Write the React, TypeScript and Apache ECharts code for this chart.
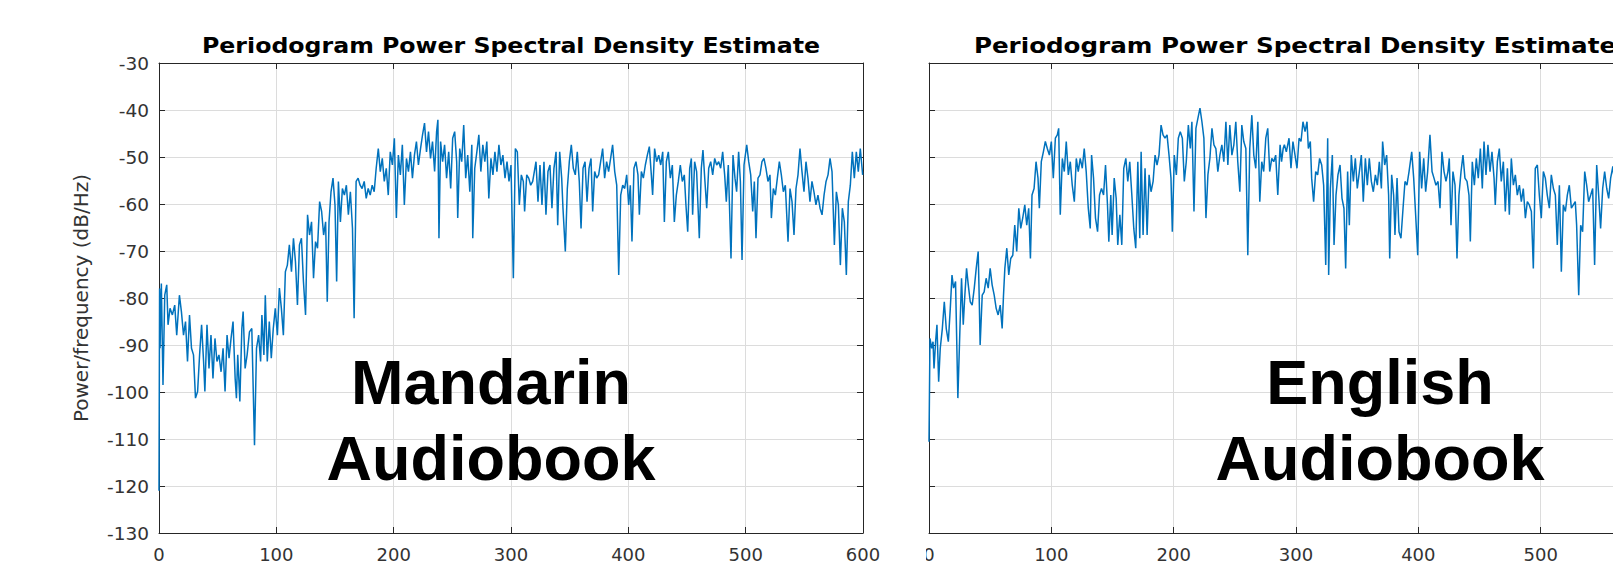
import React, { useEffect, useRef } from "react";
import * as echarts from "echarts";

const TITLE = "Periodogram Power Spectral Density Estimate";
const Y_NAME = "Power/frequency (dB/Hz)";
const LABELS_LEFT = ["Mandarin", "Audiobook"];
const LABELS_RIGHT = ["English", "Audiobook"];
const X_MIN = 0, X_MAX = 600, X_STEP = 100;
const Y_MIN = -130, Y_MAX = -30, Y_STEP = 10;

// [frequency (Hz), PSD (dB/Hz)]
const mandarinPoints: number[][] = [
[0,-121],[0.5,-78],[0.9,-90.7],[2,-76.9],[3.4,-98.5],[4.9,-79.4],[6.6,-77.2],[7.7,-85.7],[9.4,-82.2],[11.4,-83.6],[13.4,-81.5],[15.1,-87.9],[17.4,-79.4],[19.1,-82.9],[20.9,-87.9],[22.6,-85],[24.3,-93.5],[26,-83.6],[27.7,-90.7],[29.4,-92.1],[31.1,-101.3],[32.9,-99.9],[34.6,-92.1],[36.3,-85.7],[38,-93.5],[39.1,-99.9],[40.9,-85.7],[42.6,-95],[44.3,-87.9],[46,-97.1],[47.7,-88.6],[49.4,-93.5],[51.1,-92.1],[52.9,-95.7],[54.6,-90.7],[56.3,-99.9],[58,-87.9],[59.7,-92.8],[61.4,-88.6],[63.1,-85],[64.9,-97.1],[66,-101.3],[67.1,-92.1],[68.9,-102],[70.6,-86.5],[71.7,-82.9],[73.4,-95],[75.1,-92.1],[77.1,-87.2],[79.1,-86.5],[81.4,-111.3],[83.1,-90.7],[84.9,-87.9],[86.6,-93.5],[87.7,-83.6],[89.4,-92.1],[90.6,-79.4],[92.3,-93.5],[94,-85],[95.7,-92.8],[97.4,-86.5],[99.1,-82.2],[100.9,-87.9],[102.6,-77.9],[104.3,-82.2],[106,-87.9],[107.7,-74.4],[109.4,-73],[111.1,-68.7],[112.9,-74.4],[114.6,-67.3],[116.3,-72.3],[118,-81.5],[119.7,-68.7],[121.4,-67.3],[123.1,-76.5],[124.9,-83.6],[126.6,-62.3],[128.3,-66.6],[130,-63.8],[131.7,-75.8],[133.4,-68],[135.1,-69.4],[136.9,-59.5],[138.6,-61.6],[140.3,-66.6],[142,-63.8],[143.4,-80.8],[144.9,-63.8],[146.6,-57.4],[148.3,-54.5],[150,-60.2],[151.4,-76.5],[152.9,-55.2],[154.6,-63.8],[156.3,-56.7],[158,-58.1],[159.7,-56],[161.4,-62.3],[163.1,-57.4],[164.9,-65.2],[166.3,-84.3],[168,-55.2],[169.7,-54.5],[171.4,-56],[173.1,-56.7],[174.9,-55.2],[176.6,-58.8],[178.3,-56.7],[180,-58.1],[181.7,-56],[183.4,-57.4],[185.1,-52.4],[186.9,-48.2],[188.6,-53.1],[190.3,-50.3],[192,-55.2],[193.7,-52.4],[195.4,-58.1],[197.1,-48.9],[198.9,-51.7],[200.6,-46],[202.3,-63],[204,-49.6],[205.7,-53.8],[207.4,-47.4],[209.1,-60.2],[210.9,-50.3],[212.6,-53.1],[214.3,-48.9],[216,-54.5],[217.7,-49.6],[219.4,-46.7],[221.1,-51.7],[222.9,-48.2],[224.6,-45.3],[226.3,-42.8],[228,-48.9],[229.7,-44.6],[231.4,-50.3],[233.1,-46.7],[234.9,-53.1],[236.6,-44.6],[237.7,-42.1],[238.6,-67.3],[240,-46.7],[241.7,-51],[243.4,-47.4],[245.1,-54.5],[246.9,-48.9],[248.6,-56.7],[250.3,-46],[252,-44.6],[253.7,-51],[254.6,-63],[256.3,-48.2],[258,-51],[259.7,-43.2],[261.4,-54.5],[263.1,-49.6],[264.9,-57.4],[266.6,-47.4],[267.4,-67.3],[269.1,-52.4],[270.9,-48.9],[272.6,-45.3],[274.3,-53.1],[276,-47.4],[277.7,-51],[279.4,-46.7],[281.1,-58.8],[282.9,-50.3],[284.6,-53.8],[286.3,-48.9],[288,-53.1],[289.7,-47.4],[291.4,-51.7],[293.1,-49.6],[294.9,-54.5],[296.6,-51],[298.3,-55.2],[300,-51.7],
[302,-75.8],[303.7,-48.2],[305.4,-48.9],[307.1,-60.2],[308.8,-53.8],[310.5,-55.2],[311.6,-61.6],[313.4,-53.8],[315.1,-54.5],[316.8,-56],[318.5,-55.2],[321.3,-51],[323,-59.5],[324.7,-51.7],[326.4,-60.2],[328.1,-51],[329.8,-62.3],[331.5,-53.1],[333.2,-51.7],[334.9,-60.9],[336.6,-52.4],[338.4,-48.9],[339.8,-64.5],[341.5,-48.9],[343.2,-54.5],[344.3,-60.9],[346.3,-70.1],[348,-56.7],[349.7,-51],[351.4,-47.4],[353.1,-52.4],[354.8,-53.8],[356.5,-48.9],[358.2,-55.2],[359.7,-65.2],[361.4,-52.4],[363.1,-51],[364.8,-59.5],[366.5,-52.4],[368.2,-50.3],[369.6,-61.6],[371.3,-53.1],[373,-54.5],[374.7,-53.8],[376.4,-51],[378.1,-48.2],[379.8,-54.5],[381.5,-51],[383.2,-53.1],[384.9,-50.3],[386.6,-47.4],[388.4,-53.1],[390.1,-56],[391.8,-75.1],[393.5,-58.1],[395.2,-56],[396.9,-56.7],[398.6,-53.8],[400.3,-60.2],[401.7,-56],[403.1,-68],[404.8,-52.4],[406.5,-51],[408.2,-53.8],[409.4,-62.3],[411.1,-53.1],[412.8,-54.5],[414.5,-51.7],[416.2,-49.6],[417.9,-47.8],[419.6,-53.8],[420.7,-58.1],[422.4,-48.2],[424.1,-51],[425.9,-49.6],[427.6,-51.7],[429.3,-48.9],[430.7,-63.8],[432.4,-51],[434.1,-48.9],[435.8,-54.5],[437.5,-51.7],[439.2,-63.8],[440.9,-58.1],[442.6,-55.2],[444.3,-51.7],[446,-55.2],[447.7,-53.8],[449.1,-60.2],[450.6,-65.9],[452.3,-52.4],[453.7,-50.3],[454.8,-62.3],[456.5,-51],[458.2,-53.1],[460.5,-67.3],[462.2,-52.4],[463.6,-48.5],[465.3,-55.2],[466.8,-60.9],[468.5,-52.4],[470.2,-51],[471.9,-53.8],[473.6,-50.3],[475.3,-51.7],[477,-51],[478.7,-52.4],[480.4,-48.9],[482.1,-53.8],[483.5,-59.5],[485.2,-51.7],[487.5,-71.6],[489.2,-49.6],[490.9,-54.5],[492.3,-57.4],[494,-48.9],[495.5,-55.2],[496.9,-71.9],[498.6,-51.7],[500.9,-47.4],[502.6,-51],[504.3,-53.8],[506,-61.6],[507.4,-55.2],[508.8,-67.3],[510.5,-54.5],[512.2,-53.8],[513.9,-51],[515.6,-50.3],[517.3,-52.4],[519,-55.2],[520.7,-53.8],[521.9,-63],[523.6,-56.7],[525.3,-58.1],[527,-54.5],[528.7,-51],[530.4,-53.8],[532.1,-57.4],[533.8,-56],[536.1,-68],[537.8,-56.7],[539.5,-59.5],[541.2,-66.6],[542.9,-56.7],[544.6,-53.8],[546.3,-48.2],[548,-53.1],[549.7,-57.4],[551.4,-51],[553.1,-54.5],[554.8,-59.5],[556.5,-55.2],[558.2,-57.4],[559.9,-60.2],[561.6,-58.1],[563.4,-60.9],[565.1,-62.3],[566.8,-58.1],[568.5,-55.2],[570.2,-53.8],[571.9,-50.3],[573.6,-53.1],[575.6,-68.7],[577.3,-57.4],[579,-60.2],[580.7,-73],[582.4,-60.9],[584.1,-63.8],[585.8,-75.1],[587.5,-59.5],[589.2,-56],[590.9,-48.9],[592.6,-54.5],[594.3,-48.9],[596,-53.1],[597.7,-48.2],[599.7,-53.8]
];

const englishPoints: number[][] = [
[0,-110.6],[0.8,-88.6],[2.2,-90.7],[3.3,-89.3],[4.1,-95],[5.4,-89.3],[6.5,-85.7],[7.9,-97.8],[9.2,-90.7],[10.9,-86.5],[12.5,-80.8],[14.1,-86.5],[15.8,-89.3],[17.4,-82.2],[18.8,-75.1],[20.1,-77.9],[21.7,-76.5],[23.6,-101.3],[25.3,-86.5],[26.6,-75.8],[28,-85.7],[29.3,-79.4],[30.7,-73.7],[32.1,-77.2],[33.7,-80.8],[35.3,-81.5],[37,-77.9],[38.6,-73.7],[40.2,-70.1],[41,-79.4],[41.8,-90],[43.5,-79.4],[45.1,-78.7],[46.7,-75.8],[48.4,-77.9],[50,-73.7],[51.6,-77.2],[53.3,-79.4],[54.9,-82.2],[56.5,-83.6],[58.2,-81.5],[59.8,-86.5],[60.9,-79.4],[62,-73.7],[63.6,-69.4],[65.2,-75.1],[66.8,-71.6],[68.5,-70.9],[70.1,-64.5],[71.7,-70.1],[73.4,-60.9],[75,-65.2],[76.6,-63],[78.3,-60.2],[79.9,-64.5],[81.5,-60.9],[82.9,-71.6],[84.2,-58.1],[85.9,-56.7],[87.5,-51],[89.1,-54.5],[90.2,-60.9],[91.8,-51],[93.5,-48.9],[95.1,-46.7],[96.7,-48.2],[98.4,-49.6],[100,-46.7],[101.6,-54.5],[103.3,-46],[104.9,-45.3],[106,-43.9],[107.3,-62.3],[109,-50.3],[110.6,-53.1],[112.2,-46.7],[113.9,-53.8],[115.5,-51],[117.1,-56],[118.8,-59.5],[120.4,-50.3],[122,-53.1],[123.6,-50.3],[125.3,-52.4],[126.9,-48.2],[128.5,-53.1],[130.2,-60.9],[131.8,-65.2],[132.9,-49.6],[134.5,-54.5],[136.1,-63],[137.8,-65.9],[139.4,-58.1],[141,-56.7],[142.7,-58.1],[144.3,-51.7],[145.9,-60.2],[147,-68],[148.6,-58.1],[149.7,-66.6],[151.4,-54.5],[153,-58.8],[154.3,-68.7],[156,-62.3],[157.6,-68.7],[159.2,-52.4],[160.9,-50.3],[162.5,-55.2],[164.1,-51],[165.8,-58.1],[167.4,-65.2],[169,-69.4],[170.7,-51],[172.3,-67.3],[173.4,-48.9],[175,-66.6],[176.6,-52.4],[178.3,-66.6],[179.9,-53.8],[181.5,-57.4],[183.2,-55.2],[184.8,-49.6],[186.4,-51.7],[188,-49.6],[189.7,-43.2],[191.3,-45.3],[192.9,-46],[194.6,-45.3],[196.2,-49.6],[197.8,-54.5],[198.9,-65.9],[200.5,-49.6],[202.2,-53.8],[203.8,-46],[205.4,-44.6],[207.1,-46],[208.7,-55.2],[210.3,-51],[212,-43.2],[213.6,-48.2],[214.9,-42.5],[216.6,-61.6],[218.2,-43.9],[219.8,-41.8],[221.5,-39.6],[223.1,-42.5],[224.7,-46],[226.4,-63],[228,-53.8],[229.6,-50.3],[231.3,-43.9],[232.9,-47.4],[234.5,-48.2],[236.1,-53.1],[237.8,-49.6],[239.4,-47.4],[241,-51],[242.7,-42.5],[244.3,-51.7],[245.9,-43.2],[247.6,-49.6],[249.2,-47.4],[250.8,-42.5],[252.4,-51],[254.1,-57.4],[255.7,-43.2],[257.3,-46.7],[259,-48.2],[260.6,-70.9],[262.2,-48.2],[263.9,-41.1],[265.5,-49.6],[267.1,-52.4],[268.8,-42.5],[270.4,-59.5],[272,-51],[273.6,-53.1],[275.3,-46],[276.9,-43.9],[278.5,-53.1],[280.2,-50.3],[281.8,-51],[283.4,-49.6],[285.1,-58.1],
[287,-47.4],[288.2,-51],[289.5,-48.2],[290.5,-47.4],[292.1,-48.9],[294.3,-46],[295.9,-52.4],[297.5,-46.7],[299.2,-49.6],[300.8,-52.4],[302.5,-46],[304.1,-46.7],[305.7,-42.5],[307.4,-44.6],[309,-42.5],[310.1,-48.2],[311.7,-46.7],[312.8,-54.5],[314.4,-59.5],[316.1,-53.1],[317.7,-53.8],[319.3,-50.3],[321,-51.7],[322.6,-56],[324.3,-73],[325.9,-46],[326.7,-75.1],[328.1,-56.7],[329.7,-49.6],[331.1,-68.7],[332.7,-58.1],[334.3,-53.8],[336,-51.7],[337.6,-58.8],[339.2,-60.9],[340.6,-73.7],[342.2,-53.1],[343.6,-64.5],[345.2,-49.6],[346.9,-55.2],[348.5,-50.3],[350.1,-56.7],[351.8,-53.1],[353.4,-49.6],[355,-59.5],[356.7,-50.3],[358.3,-56],[359.9,-50.3],[361.6,-55.2],[363.2,-57.4],[364.9,-53.8],[366.5,-56],[368.1,-51],[369.8,-56.7],[370.8,-46.7],[372.5,-51.7],[374.1,-49.6],[375.7,-58.1],[376.6,-71.6],[378.2,-53.8],[379.8,-58.1],[380.9,-66.6],[382.6,-54.5],[384.2,-65.9],[385.8,-67.3],[387.5,-60.9],[389.1,-55.2],[390.7,-56],[392.4,-53.1],[394.6,-48.9],[396.2,-54.5],[397.8,-62.3],[399.5,-70.9],[401.1,-48.9],[402.7,-56.7],[404.4,-50.3],[406,-57.4],[407.6,-53.1],[409.5,-45.3],[411.2,-53.1],[412.8,-54.5],[414.4,-56],[416.1,-55.2],[417.7,-60.9],[419.3,-48.9],[421,-53.1],[422.6,-55.2],[424.2,-53.1],[425.3,-50.3],[426.7,-64.5],[428.3,-53.1],[430,-56],[431.6,-71.6],[433.2,-58.1],[434.9,-53.1],[436.5,-49.6],[438.1,-54.5],[439.8,-55.2],[441.4,-58.1],[442.5,-68],[444.1,-51],[445.8,-56],[447.4,-50.3],[449,-54.5],[450.7,-48.2],[452.3,-56.7],[453.7,-46.7],[455.3,-53.8],[456.9,-47.4],[458.6,-53.1],[460.2,-48.9],[461.9,-54.5],[462.9,-60.2],[464.6,-51],[466.2,-48.2],[467.8,-55.2],[469.5,-51],[471.1,-61.6],[472.8,-52.4],[474.4,-62.3],[476,-50.3],[477.7,-56],[479.3,-53.8],[480.9,-58.1],[482.6,-56],[484.2,-59.5],[485.8,-56.7],[487.5,-63],[489.1,-59.5],[490.7,-60.2],[492.4,-61.6],[494,-73.7],[495.6,-52.4],[497.3,-51.7],[498.9,-58.1],[500.5,-63],[502.2,-53.1],[503.8,-54.5],[505.4,-58.1],[507.1,-60.9],[508.7,-53.8],[510.4,-56.7],[512,-58.1],[513.6,-68.7],[515.3,-56],[516.9,-74.4],[518.5,-60.2],[520.2,-61.6],[521.8,-58.1],[523.4,-56],[525.1,-60.9],[526.7,-60.2],[528.3,-59.5],[529.4,-64.5],[531.1,-79.4],[532.7,-64.5],[534.3,-65.9],[536,-53.1],[537.6,-56],[539.2,-59.5],[540.9,-58.1],[542.5,-56.7],[544.1,-73],[545.8,-51.7],[547.4,-58.1],[549,-65.2],[550.7,-56.7],[552.3,-53.1],[554,-56.7],[555.6,-58.8],[557.2,-54.5],[559,-52],[561,-57]
];

const LINE_COLOR = "#0072BD";
const AXIS_COLOR = "#262626";
const GRID_COLOR = "#dcdcdc";
const LABEL_COLOR = "#333333";
const FONT = "'DejaVu Sans', sans-serif";

function xAxes(gridIndex: number, showMax: boolean) {
  const base = {
    type: "value" as const, gridIndex, min: X_MIN, max: X_MAX, interval: X_STEP,
    axisLine: { show: true, onZero: false, lineStyle: { color: AXIS_COLOR, width: 1 } },
    axisTick: { show: true, inside: true, length: 6, lineStyle: { color: AXIS_COLOR } },
  };
  return [
    { ...base, position: "bottom",
      axisLabel: { show: true, color: LABEL_COLOR, fontSize: 18, fontFamily: FONT, margin: 12, showMaxLabel: showMax, showMinLabel: true },
      splitLine: { show: true, lineStyle: { color: GRID_COLOR, width: 1 } } },
    { ...base, position: "top", axisLabel: { show: false }, splitLine: { show: false } },
  ];
}

function yAxes(gridIndex: number, showLabels: boolean) {
  const base = {
    type: "value" as const, gridIndex, min: Y_MIN, max: Y_MAX, interval: Y_STEP,
    axisLine: { show: true, onZero: false, lineStyle: { color: AXIS_COLOR, width: 1 } },
    axisTick: { show: true, inside: true, length: 6, lineStyle: { color: AXIS_COLOR } },
  };
  return [
    { ...base, position: "left",
      name: showLabels ? Y_NAME : "", nameLocation: "middle", nameGap: 68,
      nameTextStyle: { color: LABEL_COLOR, fontSize: 20, fontFamily: FONT },
      axisLabel: { show: showLabels, color: LABEL_COLOR, fontSize: 18.5, fontFamily: FONT, margin: 10 },
      splitLine: { show: true, lineStyle: { color: GRID_COLOR, width: 1 } } },
    { ...base, position: "right", axisLabel: { show: false }, splitLine: { show: false } },
  ];
}

function bigText(lines: string[], cx: number) {
  return lines.map((t, i) => ({
    type: "text", x: cx, y: 382 + i * 76, z: 100,
    style: { text: t, fill: "#000", font: "bold 63px 'Liberation Sans', Arial, sans-serif",
      textAlign: "center", textVerticalAlign: "middle" },
  }));
}

function titleText(cx: number, sx: number) {
  return {
    type: "text", x: cx, y: 46, z: 100, scaleX: sx,
    style: { text: TITLE, fill: "#000", font: "bold 20.5px 'DejaVu Sans', sans-serif",
      textAlign: "center", textVerticalAlign: "middle" },
  };
}

export default function App() {
  const ref = useRef<HTMLDivElement>(null);
  useEffect(() => {
    if (!ref.current) return;
    const chart = echarts.init(ref.current, null, { renderer: "svg" });
    chart.setOption({
      animation: false,
      backgroundColor: "#ffffff",
      grid: [
        { left: 159, top: 63, width: 704, height: 470, containLabel: false, outerBoundsMode: "none" },
        { left: 929, top: 63, width: 734, height: 470, containLabel: false, outerBoundsMode: "none" },
      ],
      xAxis: [...xAxes(0, true), ...xAxes(1, false)],
      yAxis: [...yAxes(0, true), ...yAxes(1, false)],
      series: [
        { type: "line", name: "Mandarin", xAxisIndex: 0, yAxisIndex: 0, data: mandarinPoints,
          showSymbol: false, symbol: "none", lineStyle: { color: LINE_COLOR, width: 1.5 }, clip: true },
        { type: "line", name: "English", xAxisIndex: 2, yAxisIndex: 2, data: englishPoints,
          showSymbol: false, symbol: "none", lineStyle: { color: LINE_COLOR, width: 1.5 }, clip: true },
      ],
      graphic: [
        titleText(511, 1.155),
        titleText(1295, 1.2),
        ...bigText(LABELS_LEFT, 491),
        ...bigText(LABELS_RIGHT, 1380),
        { type: "rect", z: 90, shape: { x: 881, y: 538, width: 45, height: 29 }, style: { fill: "#ffffff" } },
      ],
    });
    return () => chart.dispose();
  }, []);
  return <div ref={ref} style={{ position: "absolute", left: 0, top: 0, width: 1613, height: 567 }} />;
}
